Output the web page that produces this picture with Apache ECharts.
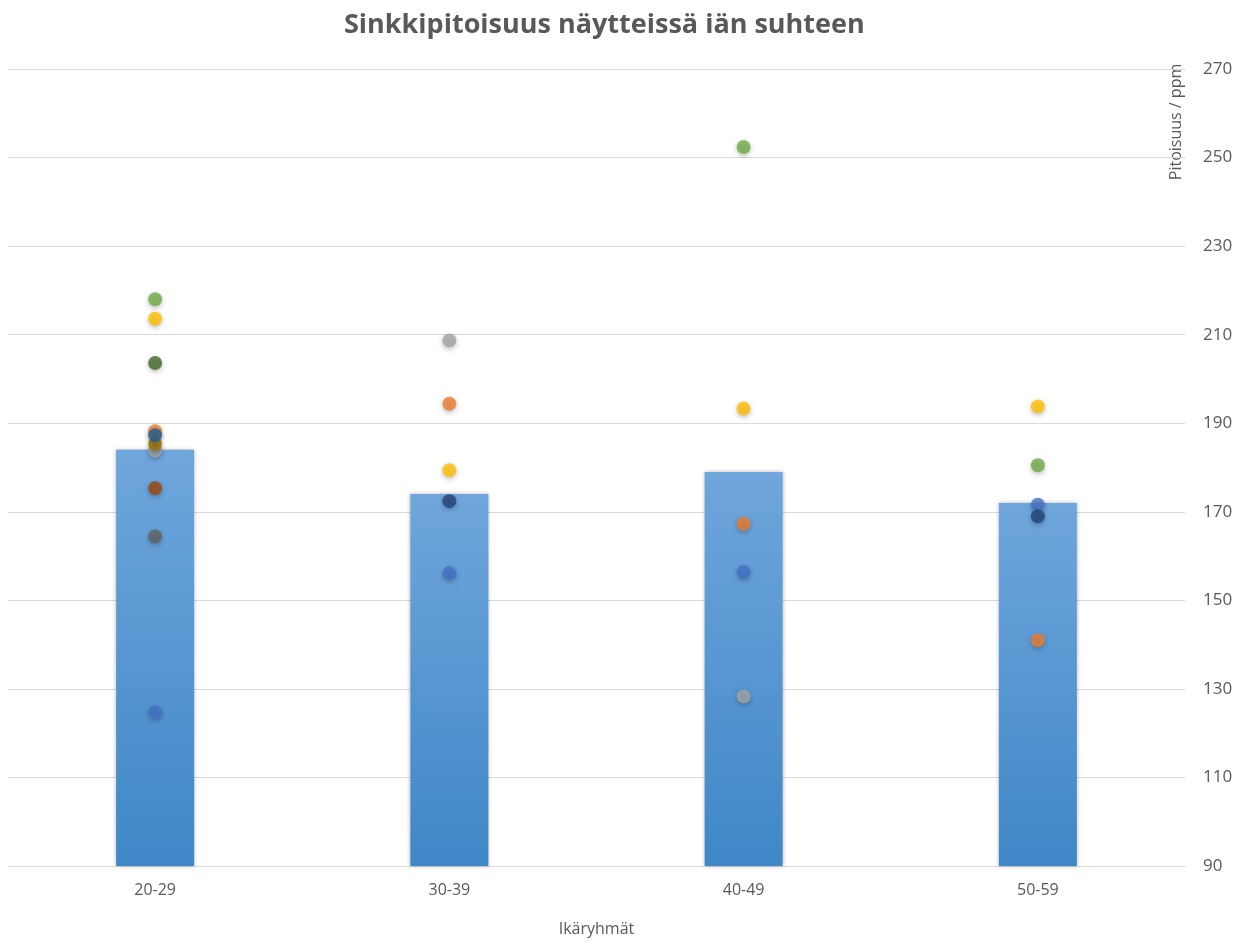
<!DOCTYPE html>
<html>
<head>
<meta charset="utf-8">
<script src="https://cdn.jsdelivr.net/npm/echarts@6/dist/echarts.min.js"></script>
<style>
  html, body { margin: 0; padding: 0; background: #ffffff; overflow: hidden; }
  #chart { width: 1244px; height: 942px; }
</style>
</head>
<body>
<div id="chart"></div>
<script>
// Age groups and the group averages (bars)
const ageGroups = ['20-29', '30-39', '40-49', '50-59'];
const groupMeans = [184, 174, 179, 172];

// Individual samples, one list per sample series (null = no sample in that group)
const sample1  = [124.7, 156.1, 156.4, 171.6];
const sample2  = [188.2, 194.4, 167.3, 141.0];
const sample3  = [183.8, 208.7, 128.3, null];
const sample4  = [213.6, 179.4, 193.3, 193.8];
const sample6  = [218.0, null, 252.4, 180.5];
const sample7  = [null, 172.4, null, 169.0];
const sample8  = [175.3, null, null, null];
const sample9  = [164.4, null, null, null];
const sample10 = [185.3, null, null, null];
const sample11 = [187.3, null, null, null];
const sample12 = [203.6, null, null, null];

// Y axis range
const yMin = 90;
const yMax = 270;
const yLabelStep = 20;

const samples = [sample1, sample2, sample3, sample4, sample6, sample7,
                 sample8, sample9, sample10, sample11, sample12];
const sampleColors = ['#4472C4', '#ED7D31', '#A5A5A5', '#FFC000', '#70AD47', '#264478',
                      '#9E480E', '#636363', '#997300', '#255E91', '#43682B'];

const textColor = '#595959';
const fontFamily = '"Open Sans", "Liberation Sans", sans-serif';

const chart = echarts.init(document.getElementById('chart'), null, { renderer: 'canvas' });

const series = [{
  type: 'bar',
  data: groupMeans,
  barWidth: '26.5%',
  itemStyle: {
    color: new echarts.graphic.LinearGradient(0, 0, 0, 1, [
      { offset: 0, color: '#6fa6dc' },
      { offset: 1, color: '#3f87c7' }
    ]),
    shadowBlur: 4,
    shadowColor: 'rgba(0,0,0,0.3)'
  },
  z: 2
}];

samples.forEach((vals, i) => {
  series.push({
    type: 'scatter',
    data: vals,
    symbol: 'circle',
    symbolSize: 14,
    itemStyle: {
      color: sampleColors[i],
      shadowBlur: 5,
      shadowOffsetY: 2,
      shadowColor: 'rgba(0,0,0,0.3)'
    },
    z: 3
  });
});

chart.setOption({
  backgroundColor: '#ffffff',
  animation: false,
  title: {
    text: 'Sinkkipitoisuus näytteissä iän suhteen',
    left: 339,
    top: 7,
    textStyle: { color: textColor, fontSize: 27, fontWeight: 'bold', fontFamily: fontFamily }
  },
  grid: { left: 8, width: 1177, top: 69, height: 809, containLabel: false },
  xAxis: {
    type: 'category',
    data: ageGroups,
    name: 'Ikäryhmät',
    nameLocation: 'middle',
    nameGap: 55,
    nameTextStyle: { color: textColor, fontSize: 16, fontFamily: fontFamily },
    axisLine: { lineStyle: { color: '#d9d9d9', width: 1 } },
    axisTick: { show: false },
    axisLabel: { color: textColor, fontSize: 16, fontFamily: fontFamily, margin: 16 }
  },
  yAxis: {
    type: 'value',
    position: 'right',
    min: yMin,
    max: yMax,
    interval: yLabelStep / 2,
    axisLine: { show: false },
    axisTick: { show: false },
    axisLabel: {
      color: textColor, fontSize: 17, fontFamily: fontFamily, margin: 18,
      formatter: v => ((v - yMin) % yLabelStep === 0 ? String(v) : '')
    },
    splitLine: { lineStyle: { color: ['#d9d9d9', 'rgba(0,0,0,0)'], width: 1 } }
  },
  graphic: [{
    type: 'text',
    x: 1176,
    y: 122,
    rotation: Math.PI / 2,
    style: {
      text: 'Pitoisuus / ppm',
      fill: textColor,
      font: '16px ' + fontFamily,
      align: 'center',
      verticalAlign: 'middle'
    }
  }],
  series: series
});
</script>
</body>
</html>
